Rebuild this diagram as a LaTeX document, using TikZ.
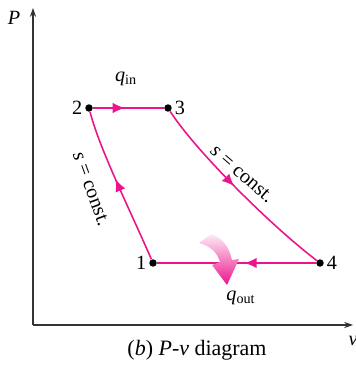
\documentclass[tikz,border=0pt]{standalone}
\usepackage{fontspec}
\setmainfont{Liberation Serif}
\usetikzlibrary{arrows.meta,decorations.markings}
\definecolor{cyclepink}{RGB}{236,20,140}
\begin{document}
\begin{tikzpicture}[x=0.02cm, y=-0.02cm, >={Stealth[length=5pt,width=3.5pt]},
    every node/.style={font=\fontsize{11.5}{13}\selectfont},
    state/.style={circle, fill=black, inner sep=1.5pt},
    process/.style={cyclepink, line width=0.9pt},
    midarrow/.style={postaction={decorate}, decoration={markings,
        mark=at position #1 with {\arrow{Latex[length=7pt,width=6pt]}}}}]
    \useasboundingbox (0,0) rectangle (355,365);

    % axes
    \coordinate (o) at (33,325);
    \coordinate (ptop) at (33,8);
    \coordinate (vend) at (353,325);
    \draw[->, black!80, line width=0.7pt] (o) -- (ptop);
    \draw[->, black!80, line width=0.7pt] (o) -- (vend);
    \node (plab) at (14,18) {\textit{P}};
    \node (vlab) at (353,341) {\textit{v}};

    % states
    \node[state, label={[xshift=2pt]left:2}] (p2) at (89,108) {};
    \node[state, label={[xshift=-2pt]right:3}] (p3) at (168,108) {};
    \node[state, label={[xshift=2pt]left:1}] (p1) at (153,263) {};
    \node[state, label={[xshift=-2pt]right:4}] (p4) at (320,263) {};

    % cycle
    \draw[process, midarrow=0.45] (p2) -- (p3);
    \draw[process, midarrow=0.47] (p3) .. controls (195,150) and (270,225) .. (p4);
    \draw[process, midarrow=0.45] (p4) -- (p1);
    \draw[process, midarrow=0.55] (p1) .. controls (130,210) and (100,150) .. (p2);

    \node (qin) at (126,79) {\textit{q}\textsubscript{in}};
    \node[rotate=-70] (s12) at (91,189) {\textit{s} = const.};
    \node[rotate=-41] (s34) at (242,174) {\textit{s} = const.};

    % heat rejected
    \shade[top color=cyclepink!8, bottom color=cyclepink]
        (199,243) .. controls (210,246) and (217,252) .. (220,262)
        -- (212,265) -- (227,285) -- (239,259) -- (232,260)
        .. controls (229,246) and (222,238) .. (211,234) -- cycle;
    \node (qout) at (241,298) {\textit{q}\textsubscript{out}};

    \node[font=\fontsize{12.5}{14}\selectfont] (cap) at (197,350) {(\textit{b}) \textit{P}-\textit{v} diagram};
\end{tikzpicture}
\end{document}
